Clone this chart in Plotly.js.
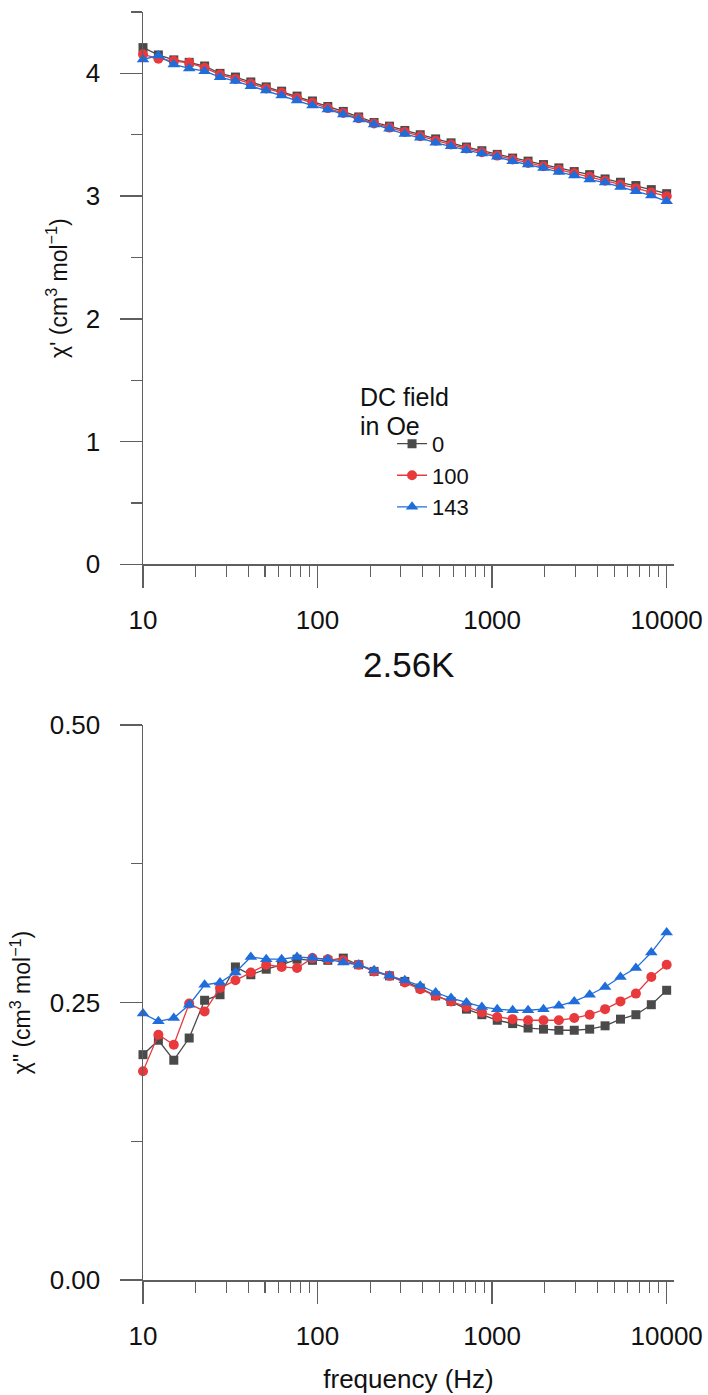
<!DOCTYPE html>
<html>
<head>
<meta charset="utf-8">
<script src="https://cdn.plot.ly/plotly-3.0.1.min.js"></script>
<style>html,body{margin:0;padding:0;background:#fff;}#chart{width:708px;height:1395px;}</style>
</head>
<body>
<div id="chart"></div>
<script>
// Frequencies (Hz)
var freq = [10, 12.25, 15.01, 18.39, 22.54, 27.62, 33.84, 41.47, 50.81, 62.26, 76.29, 93.48, 114.5, 140.4, 172.0, 210.7, 258.2, 316.2, 387.5, 474.8, 581.8, 712.9, 873.6, 1070, 1311, 1607, 1969, 2412, 2955, 3622, 4438, 5438, 6663, 8165, 10000];

// DC field labels (Oe)
var fields = ['0', '100', '143'];

// chi' (cm3 mol-1)
var chi1_0   = [4.21, 4.15, 4.11, 4.09, 4.06, 4.00, 3.97, 3.93, 3.89, 3.855, 3.815, 3.775, 3.73, 3.69, 3.645, 3.60, 3.57, 3.535, 3.50, 3.466, 3.434, 3.40, 3.37, 3.34, 3.31, 3.285, 3.257, 3.23, 3.20, 3.175, 3.14, 3.113, 3.086, 3.053, 3.02];
var chi1_100 = [4.155, 4.12, 4.10, 4.086, 4.045, 3.99, 3.955, 3.915, 3.877, 3.842, 3.80, 3.76, 3.717, 3.678, 3.635, 3.592, 3.558, 3.522, 3.488, 3.452, 3.42, 3.388, 3.358, 3.33, 3.298, 3.27, 3.243, 3.215, 3.186, 3.157, 3.125, 3.095, 3.065, 3.03, 2.999];
var chi1_143 = [4.113, 4.146, 4.073, 4.04, 4.018, 3.969, 3.937, 3.896, 3.861, 3.82, 3.779, 3.738, 3.706, 3.665, 3.624, 3.583, 3.548, 3.506, 3.475, 3.434, 3.406, 3.374, 3.347, 3.32, 3.284, 3.257, 3.23, 3.197, 3.167, 3.135, 3.11, 3.075, 3.039, 3.004, 2.958];

// chi'' (cm3 mol-1)
var chi2_0   = [0.203, 0.216, 0.198, 0.218, 0.252, 0.257, 0.282, 0.275, 0.280, 0.284, 0.289, 0.288, 0.288, 0.290, 0.284, 0.278, 0.274, 0.269, 0.263, 0.256, 0.251, 0.244, 0.239, 0.234, 0.231, 0.227, 0.226, 0.225, 0.225, 0.226, 0.229, 0.235, 0.239, 0.248, 0.261];
var chi2_100 = [0.188, 0.221, 0.212, 0.249, 0.242, 0.263, 0.270, 0.277, 0.284, 0.282, 0.281, 0.290, 0.289, 0.288, 0.284, 0.278, 0.274, 0.268, 0.262, 0.256, 0.251, 0.246, 0.241, 0.237, 0.235, 0.234, 0.234, 0.234, 0.236, 0.239, 0.244, 0.251, 0.258, 0.273, 0.284];
var chi2_143 = [0.240, 0.233, 0.236, 0.248, 0.266, 0.268, 0.277, 0.291, 0.289, 0.289, 0.291, 0.290, 0.289, 0.286, 0.284, 0.279, 0.274, 0.270, 0.265, 0.259, 0.254, 0.250, 0.246, 0.244, 0.243, 0.243, 0.244, 0.247, 0.251, 0.257, 0.264, 0.273, 0.281, 0.295, 0.313];

var colors = ['#4a4a4a', '#e8393d', '#1f6ddb'];
var symbols = ['square', 'circle', 'triangle-up'];
var sizes = [9, 10, 11];

var FONT = 'Liberation Sans, Arial, Helvetica, sans-serif';
var AX = '#5f5f5f';

var topSeries = [chi1_0, chi1_100, chi1_143];
var botSeries = [chi2_0, chi2_100, chi2_143];

var traces = [];
for (var i = 0; i < 3; i++) {
  traces.push({
    x: freq, y: topSeries[i], xaxis: 'x', yaxis: 'y',
    type: 'scatter', mode: 'lines+markers', name: fields[i],
    line: {color: colors[i], width: 1.3},
    marker: {color: colors[i], symbol: symbols[i], size: sizes[i]},
    cliponaxis: false, showlegend: true
  });
}
for (var j = 0; j < 3; j++) {
  traces.push({
    x: freq, y: botSeries[j], xaxis: 'x2', yaxis: 'y2',
    type: 'scatter', mode: 'lines+markers', name: fields[j],
    line: {color: colors[j], width: 1.3},
    marker: {color: colors[j], symbol: symbols[j], size: sizes[j]},
    cliponaxis: false, showlegend: false
  });
}

function xAxis(anchor, withTitle) {
  var a = {
    type: 'log', range: [1, 4.042], anchor: anchor,
    showgrid: false, zeroline: false,
    showline: true, linecolor: AX, linewidth: 1.5,
    ticks: 'outside', ticklen: 22, tickwidth: 1.3, tickcolor: AX,
    dtick: 1, tickformat: 'd',
    tickfont: {family: FONT, size: 26, color: '#111'},
    ticklabelstandoff: 10,
    minor: {dtick: 'D1', ticks: 'outside', ticklen: 11, tickwidth: 1.1, tickcolor: AX, showgrid: false}
  };
  if (withTitle) {
    a.title = {text: 'frequency (Hz)', font: {family: FONT, size: 26, color: '#111'}, standoff: 20};
  }
  return a;
}

function yAxis(anchor, domain, range, dtick, minorDtick, fmt, title) {
  return {
    domain: domain, range: range, anchor: anchor,
    showgrid: false, zeroline: false,
    showline: true, linecolor: AX, linewidth: 1.5,
    ticks: 'outside', ticklen: 22, tickwidth: 1.3, tickcolor: AX,
    dtick: dtick, tick0: 0, tickformat: fmt,
    tickfont: {family: FONT, size: 26, color: '#111'},
    ticklabelstandoff: 14,
    minor: {dtick: minorDtick, tick0: 0, ticks: 'outside', ticklen: 11, tickwidth: 1.1, tickcolor: AX, showgrid: false},
    title: {text: title, font: {family: FONT, size: 23, color: '#111'}, standoff: 12}
  };
}

var layout = {
  width: 708, height: 1395,
  margin: {l: 143, r: 34, t: 12, b: 115},
  paper_bgcolor: '#fff', plot_bgcolor: '#fff',
  font: {family: FONT, color: '#111'},
  xaxis: xAxis('y', false),
  xaxis2: xAxis('y2', true),
  yaxis: yAxis('x', [0.5644, 1], [0, 4.5], 1, 0.5, '', 'χ\' (cm<sup>3</sup> mol<sup>−1</sup>)'),
  yaxis2: yAxis('x2', [0, 0.4377], [0, 0.5], 0.25, 0.125, '.2f', 'χ" (cm<sup>3</sup> mol<sup>−1</sup>)'),
  showlegend: true,
  legend: {
    x: 0.469, y: 0.676, xanchor: 'left', yanchor: 'top',
    bgcolor: 'rgba(0,0,0,0)', borderwidth: 0,
    font: {family: FONT, size: 22, color: '#111'},
    tracegroupgap: 0
  },
  annotations: [
    {text: 'DC field', xref: 'paper', yref: 'paper', x: 0.405, y: 0.6965, xanchor: 'left', yanchor: 'middle', showarrow: false, font: {family: FONT, size: 25, color: '#111'}},
    {text: 'in Oe', xref: 'paper', yref: 'paper', x: 0.405, y: 0.6738, xanchor: 'left', yanchor: 'middle', showarrow: false, font: {family: FONT, size: 25, color: '#111'}},
    {text: '2.56K', xref: 'paper', yref: 'paper', x: 0.5, y: 0.4858, xanchor: 'center', yanchor: 'middle', showarrow: false, font: {family: FONT, size: 35, color: '#111'}}
  ]
};

Plotly.newPlot('chart', traces, layout, {staticPlot: true, displayModeBar: false});
</script>
</body>
</html>
